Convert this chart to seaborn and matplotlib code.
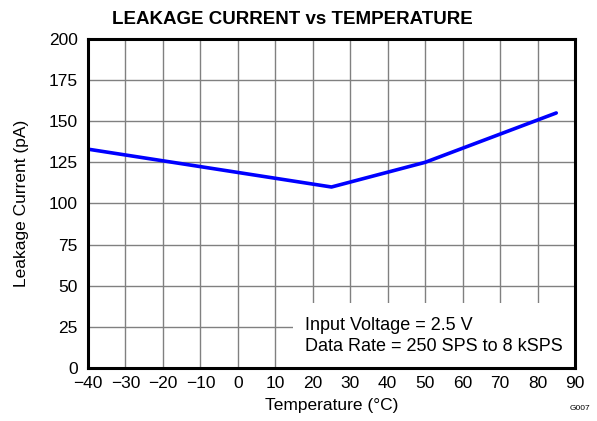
import seaborn as sns
import pandas as pd
import matplotlib.pyplot as plt
from matplotlib.patches import Rectangle

temperature = [-40, 25, 50, 85]
leakage_pa = [133, 110, 125, 155]
x_ticks = list(range(-40, 100, 10))
y_ticks = list(range(0, 225, 25))
note_lines = ['Input Voltage = 2.5 V', 'Data Rate = 250 SPS to 8 kSPS']

sns.set_theme(style='white')
plt.rcParams['font.family'] = ['Liberation Sans', 'DejaVu Sans']
plt.rcParams['axes.unicode_minus'] = True

df = pd.DataFrame({'Temperature': temperature, 'Leakage': leakage_pa})

fig = plt.figure(figsize=(5.97, 4.21), dpi=100)
ax = fig.add_axes([0.1474, 0.126, 0.8157, 0.7815])

sns.lineplot(data=df, x='Temperature', y='Leakage', ax=ax, color='#0000ff',
             linewidth=2.6, zorder=3)

ax.set_xlim(-40, 90)
ax.set_ylim(0, 200)
ax.set_xticks(x_ticks)
ax.set_yticks(y_ticks)
ax.set_xticklabels([str(t).replace('-', '\u2212') for t in x_ticks])
ax.grid(True, color='#808080', linewidth=1.0)
ax.set_axisbelow(True)
ax.tick_params(axis='both', length=0, labelsize=12.5, colors='black')
ax.tick_params(axis='x', pad=5.5)
ax.tick_params(axis='y', pad=7.5)

for s in ax.spines.values():
    s.set_color('black')
    s.set_linewidth(2.2)
    s.set_zorder(5)

ax.set_xlabel('Temperature (°C)', fontsize=12.5, color='black', labelpad=5)
ax.set_ylabel('Leakage Current (pA)', fontsize=12.5, color='black', labelpad=14)
fig.text(0.49, 0.934, 'LEAKAGE CURRENT vs TEMPERATURE', fontsize=13.5,
         fontweight='bold', color='black', ha='center', va='bottom')

# white note area masking the grid in the lower right
ax.add_patch(Rectangle((14.7, 0), 75.3, 39.5, facecolor='white', edgecolor='none',
                       zorder=2))
ax.text(18, 19.5, '\n'.join(note_lines), ha='left', va='center', fontsize=13,
        linespacing=1.3, color='black', zorder=4)

fig.text(0.988, 0.022, 'G007', fontsize=6, ha='right', va='bottom', color='black')

fig.savefig('out.png', dpi=100)
